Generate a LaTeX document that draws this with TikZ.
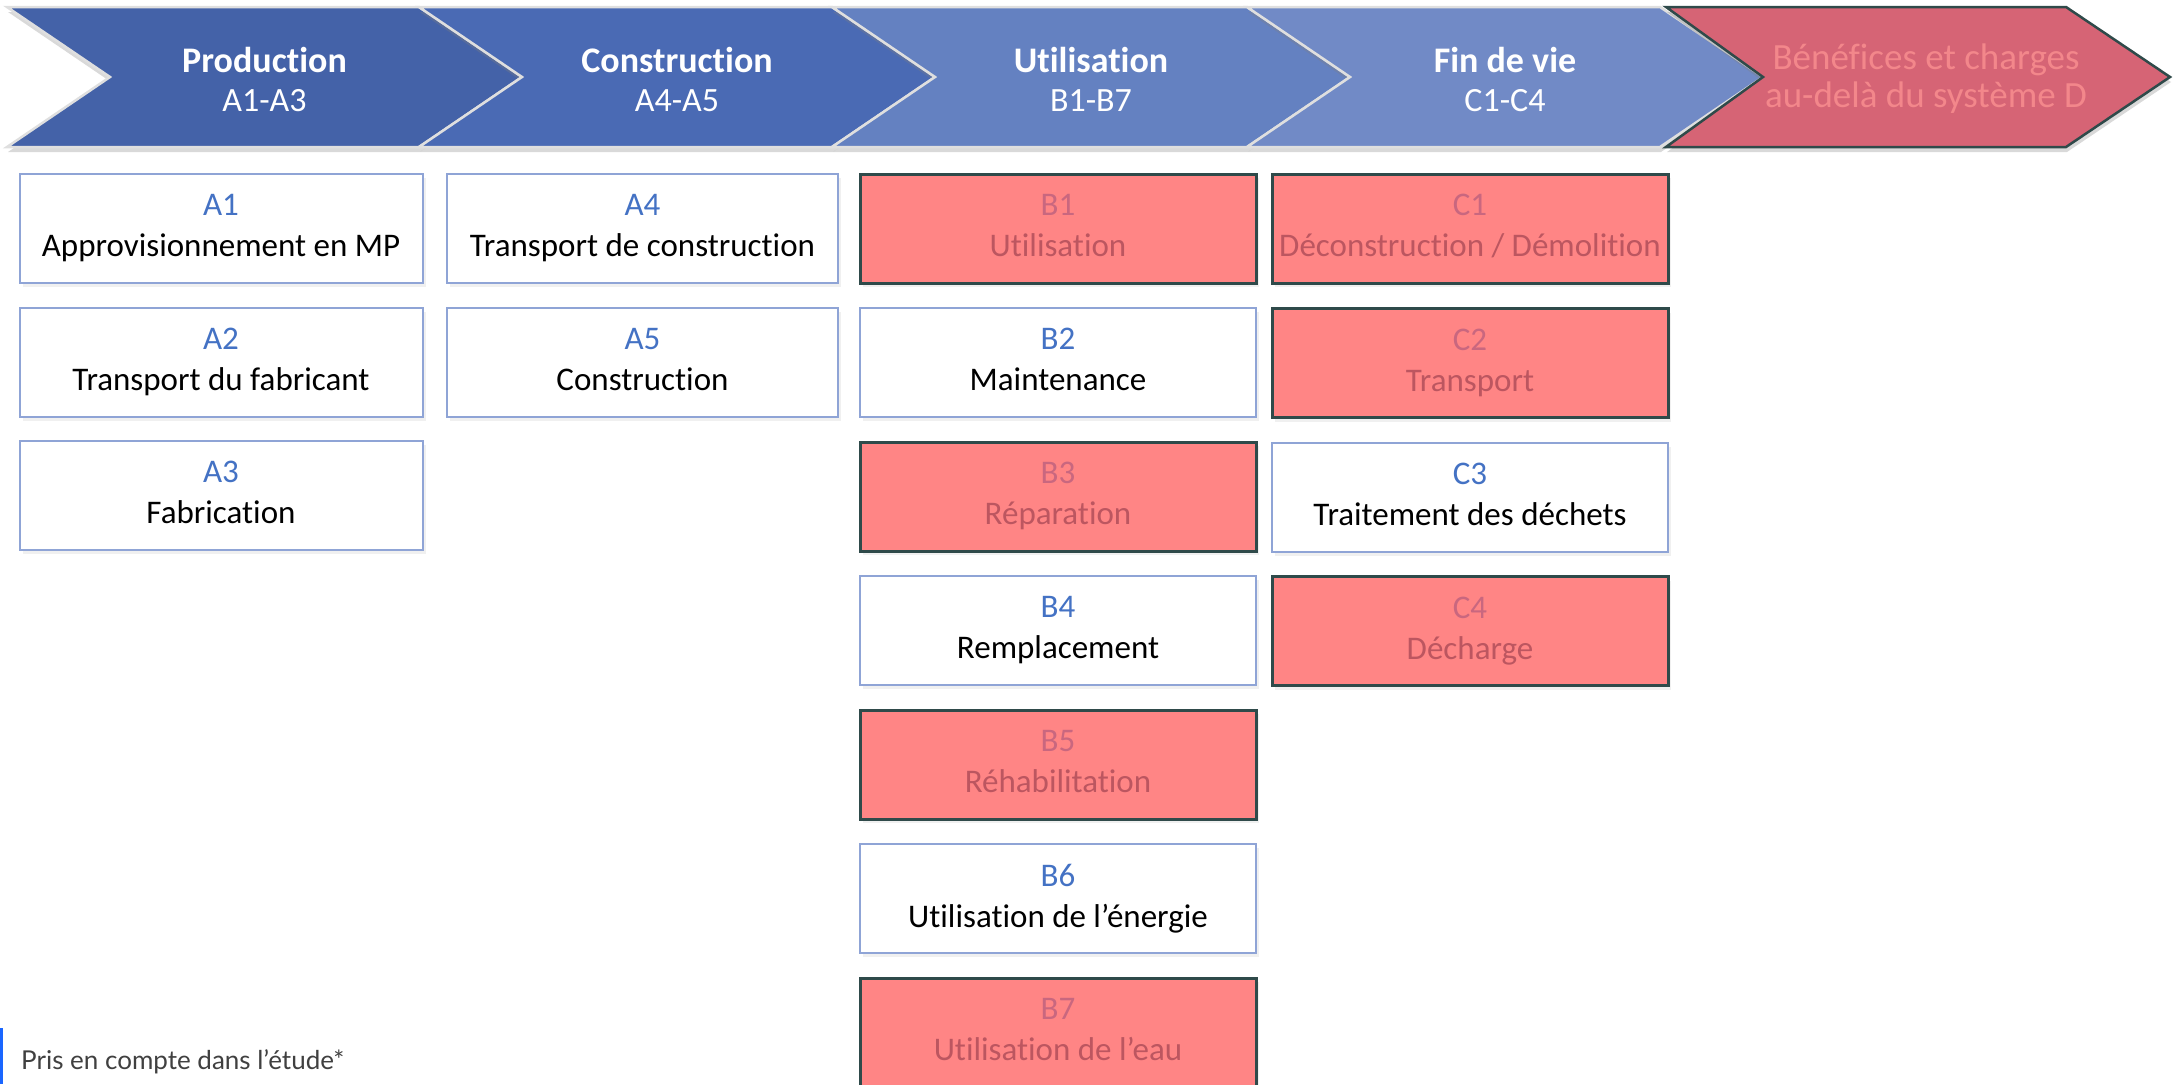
\documentclass[tikz,border=0pt]{standalone}
\usepackage{fontspec}
\setmainfont{Carlito}[Ligatures=NoCommon]
\newfontfamily\notefont{Lato}
\usetikzlibrary{positioning,shadows}
\definecolor{phase1}{HTML}{4462A8}
\definecolor{phase2}{HTML}{4A6AB4}
\definecolor{phase3}{HTML}{6481C1}
\definecolor{phase4}{HTML}{718AC6}
\definecolor{phase5}{HTML}{D66475}
\definecolor{phase5text}{HTML}{F3878B}
\definecolor{darkline}{HTML}{2F4A4A}
\definecolor{boxline}{HTML}{8FA4D6}
\definecolor{codeblue}{HTML}{4472C4}
\definecolor{outfill}{HTML}{FF8585}
\definecolor{outcode}{HTML}{C9677F}
\definecolor{outtext}{HTML}{BC5660}
\definecolor{notebar}{HTML}{1A66FF}
\definecolor{notetext}{HTML}{404040}

\begin{document}
\begin{tikzpicture}[x=1pt, y=-1pt,
  every node/.style={font=\fontsize{33}{41}\selectfont},
  phase/.style={draw=white!75!gray, line width=2.5pt,
                drop shadow={opacity=0.3, shadow xshift=1pt, shadow yshift=-5pt}},
  phasetext/.style={text=white, align=center, font=\fontsize{34}{39}\selectfont},
  stage/.style={draw=boxline, line width=2pt, fill=white, minimum width=396pt,
                minimum height=109pt, align=center, inner sep=2pt,
                execute at end node=\vphantom{g},
                drop shadow={opacity=0.12, shadow xshift=3pt, shadow yshift=-4pt}},
  outstage/.style={stage, draw=darkline, line width=3pt, fill=outfill, text=outtext},
  node distance=22.5pt
]
  \useasboundingbox (0,0) rectangle (2173,1084);
  \clip (0,0) rectangle (2173,1084);

  % life cycle phases
  \foreach \x/\w/\col/\id/\name/\sub in {7/412/phase1/prod/Production/A1-A3,
      419/413/phase2/constr/Construction/A4-A5, 832/415/phase3/usage/Utilisation/B1-B7,
      1247/413/phase4/eol/Fin de vie/C1-C4}{
    \filldraw[phase, fill=\col] (\x,7) -- ++(\w,0) -- ++(103,70) -- ++(-103,70)
      -- ++(-\w,0) -- ++(103,-70) -- cycle;
    \node[phasetext] (\id) at ({\x+(\w+103)/2},79)
      {{\fontsize{36}{39}\selectfont\bfseries\name}\\\sub};
  }
  \filldraw[phase, fill=phase5, draw=darkline] (1666,7) -- (2066,7) -- (2170,77)
    -- (2066,147) -- (1666,147) -- (1763,77) -- cycle;
  \node[phasetext, text=phase5text, font=\fontsize{37}{38}\selectfont] (beyond) at (1926,79)
    {Bénéfices et charges\\au-delà du système D};

  % A1-A3
  \node[stage, minimum width=403pt] (a1) at (221,228.5) {\textcolor{codeblue}{A1}\\Approvisionnement en MP};
  \node[stage, minimum width=403pt, below=of a1] (a2) {\textcolor{codeblue}{A2}\\Transport du fabricant};
  \node[stage, minimum width=403pt, below=of a2] (a3) {\textcolor{codeblue}{A3}\\Fabrication};

  % A4-A5
  \node[stage, minimum width=391pt] (a4) at (642.5,228.5) {\textcolor{codeblue}{A4}\\Transport de construction};
  \node[stage, minimum width=391pt, below=of a4] (a5) {\textcolor{codeblue}{A5}\\Construction};

  % B1-B7
  \node[outstage] (b1) at (1058,228.5) {\textcolor{outcode}{B1}\\Utilisation};
  \node[stage, below=of b1] (b2) {\textcolor{codeblue}{B2}\\Maintenance};
  \node[outstage, below=of b2] (b3) {\textcolor{outcode}{B3}\\Réparation};
  \node[stage, below=of b3] (b4) {\textcolor{codeblue}{B4}\\Remplacement};
  \node[outstage, below=of b4] (b5) {\textcolor{outcode}{B5}\\Réhabilitation};
  \node[stage, below=of b5] (b6) {\textcolor{codeblue}{B6}\\Utilisation de l’énergie};
  \node[outstage, below=of b6] (b7) {\textcolor{outcode}{B7}\\Utilisation de l’eau};

  % C1-C4
  \node[outstage] (c1) at (1470,228.5) {\textcolor{outcode}{C1}\\Déconstruction / Démolition};
  \node[outstage, below=of c1] (c2) {\textcolor{outcode}{C2}\\Transport};
  \node[stage, below=of c2] (c3) {\textcolor{codeblue}{C3}\\Traitement des déchets};
  \node[outstage, below=of c3] (c4) {\textcolor{outcode}{C4}\\Décharge};

  % legend
  \fill[notebar] (0,1028) rectangle (3,1084);
  \node[anchor=base west, inner sep=0pt, text=notetext,
        font=\notefont\fontsize{26}{30}\selectfont] (note) at (21,1069)
    {Pris en compte dans l’étude*};
\end{tikzpicture}
\end{document}
